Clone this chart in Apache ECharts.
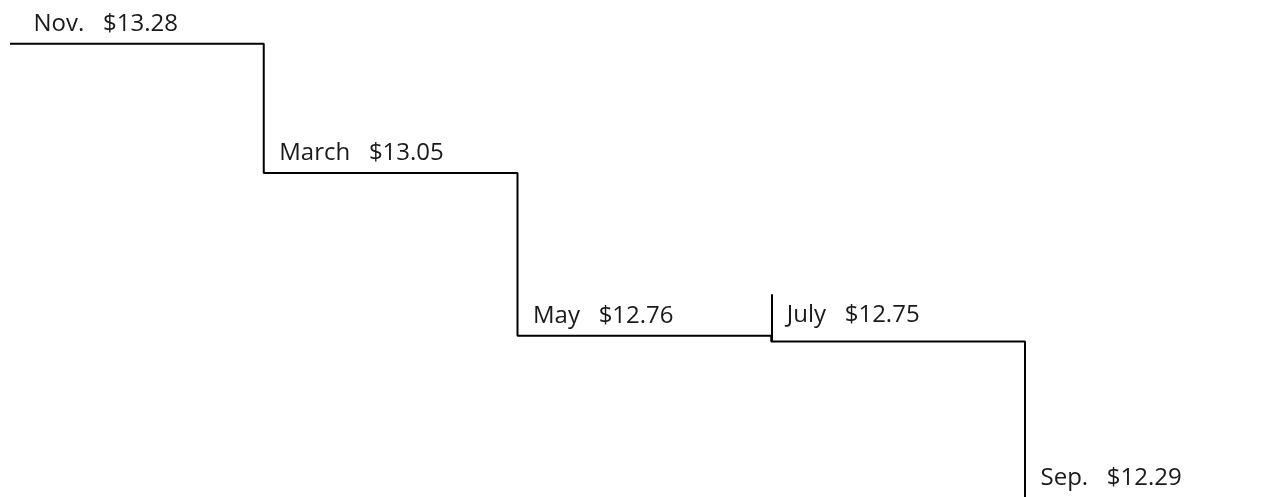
<!DOCTYPE html>
<html>
<head>
<meta charset="utf-8">
<script src="https://cdn.jsdelivr.net/npm/echarts@6/dist/echarts.min.js"></script>
<style>
  html, body { margin: 0; padding: 0; background: #fff; }
  .main { width: 1276px; height: 497px; }
</style>
</head>
<body>
<div class="main"></div>
<script>
var months = ['Nov.', 'March', 'May', 'July', 'Sep.'];
var prices = [13.28, 13.05, 12.76, 12.75, 12.29];
var tickMonth = 'July';      // short vertical marker above this step
var tickTop = 12.834;

var myChart = echarts.init(document.querySelector('.main'));

var seriesData = prices.map(function (v, i) {
  var item = { value: v };
  if (i === 0) item.label = { offset: [18, -20] };
  if (i === 3) item.label = { offset: [10, -26] };
  // Sep. sits below the visible area, so lift its label into view
  if (i === prices.length - 1) item.label = { offset: [10, -122] };
  return item;
});

var option = {
  animation: false,
  grid: { left: 10, right: 251, top: 0, bottom: 0 },
  xAxis: {
    type: 'category',
    data: months,
    boundaryGap: false,
    show: false
  },
  yAxis: {
    type: 'value',
    min: 12.473,
    max: 13.358,
    show: false
  },
  series: [{
    type: 'line',
    step: 'end',
    data: seriesData,
    clip: false,
    symbol: 'circle',
    symbolSize: 1,
    itemStyle: { color: 'rgba(0,0,0,0)', borderWidth: 0 },
    lineStyle: { color: '#000', width: 2 },
    label: {
      show: true,
      position: 'right',
      distance: 5,
      offset: [10, -20],
      color: '#1a1a1a',
      fontFamily: 'Open Sans',
      fontSize: 24,
      formatter: function (p) {
        return months[p.dataIndex] + '   $' + prices[p.dataIndex].toFixed(2);
      }
    },
    markLine: {
      silent: true,
      symbol: 'none',
      label: { show: false },
      lineStyle: { color: '#000', width: 2, type: 'solid' },
      data: [[
        { coord: [tickMonth, prices[months.indexOf(tickMonth)]] },
        { coord: [tickMonth, tickTop] }
      ]]
    }
  }]
};

myChart.setOption(option);
</script>
</body>
</html>
